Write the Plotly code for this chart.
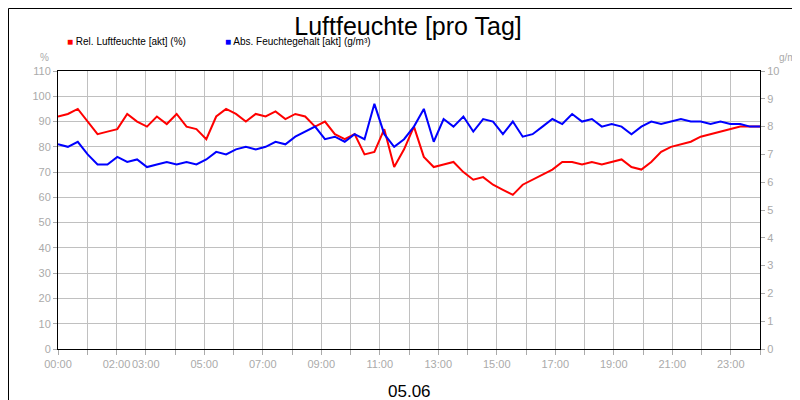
import plotly.graph_objects as go

rel = [92,93,95,90,85,86,87,93,90,88,92,89,93,88,87,83,92,95,93,90,93,92,94,91,93,92,88,90,85,83,85,77,78,87,72,79,88,76,72,73,74,70,67,68,65,63,61,65,67,69,71,74,74,73,74,73,74,75,72,71,74,78,80,81,82,84,85,86,87,88,88,88]
abs_pct = [81,80,82,77,73,73,76,74,75,72,73,74,73,74,73,75,78,77,79,80,79,80,82,81,84,86,88,83,84,82,85,83,97,85,80,83,88,95,82,91,88,92,86,91,90,85,90,84,85,88,91,89,93,90,91,88,89,88,85,88,90,89,90,91,90,90,89,90,89,89,88,88]
absf = [v/11 for v in abs_pct]
hours = [i*24/71 for i in range(len(rel))]

tickvals = list(range(25))
labels = {0:"00:00",2:"02:00",3:"03:00",5:"05:00",7:"07:00",9:"09:00",11:"11:00",13:"13:00",15:"15:00",17:"17:00",19:"19:00",21:"21:00",23:"23:00"}
ticktext = [labels.get(h, "") for h in tickvals]

fig = go.Figure()
fig.add_trace(go.Scatter(x=hours, y=rel, mode="lines", line=dict(color="#ff0000", width=2), name="Rel. Luftfeuchte [akt] (%)"))
fig.add_trace(go.Scatter(x=hours, y=absf, mode="lines", line=dict(color="#0000ff", width=2), name="Abs. Feuchtegehalt [akt] (g/m³)", yaxis="y2"))

grey = "#aaaaaa"
fig.update_layout(
    width=800, height=400, plot_bgcolor="white", paper_bgcolor="white",
    margin=dict(l=50, r=48, t=63, b=59, autoexpand=False),
    font=dict(family="Liberation Sans, Arial", size=11, color=grey),
    title=dict(text="Luftfeuchte [pro Tag]", x=0.5, y=0.955, xanchor="center", yanchor="middle", font=dict(size=25, color="black")),
    showlegend=False,
    xaxis=dict(range=[0,24], tickvals=tickvals, ticktext=ticktext, tickangle=0, automargin=False, showgrid=True, gridcolor="#c0c0c0",
               showline=True, linecolor="black", mirror=True, ticks="outside", tickcolor=grey, ticklen=5, zeroline=False),
    yaxis=dict(range=[0,110], dtick=10, automargin=False, showgrid=True, gridcolor="#c0c0c0", showline=True, linecolor="black",
               mirror=True, ticks="outside", tickcolor=grey, ticklen=4, zeroline=False),
    yaxis2=dict(range=[0,10], dtick=1, automargin=False, overlaying="y", side="right", showgrid=False, ticks="outside", tickcolor=grey, ticklen=4, zeroline=False),
    shapes=[dict(type="rect", xref="paper", yref="paper", x0=-0.0705, x1=1.067, y0=-0.2086, y1=1.2248, line=dict(color="black", width=1))],
    annotations=[
        dict(text="<span style='color:#ff0000'>■</span> Rel. Luftfeuchte [akt] (%)", xref="paper", yref="paper", x=0.01, y=1.105, xanchor="left", yanchor="middle", showarrow=False, font=dict(size=10, color="black")),
        dict(text="<span style='color:#0000ff'>■</span> Abs. Feuchtegehalt [akt] (g/m³)", xref="paper", yref="paper", x=0.235, y=1.105, xanchor="left", yanchor="middle", showarrow=False, font=dict(size=10, color="black")),
        dict(text="%", xref="paper", yref="paper", x=-0.01, y=1.075, showarrow=False, font=dict(size=10, color=grey), xanchor="right"),
        dict(text="g/m³", xref="paper", yref="paper", x=1.06, y=1.075, showarrow=False, font=dict(size=10, color=grey), xanchor="right"),
        dict(text="05.06", xref="paper", yref="paper", x=0.5, y=-0.11, yanchor="top", showarrow=False, font=dict(size=17, color="black")),
    ],
)
fig.write_html("out.html")
